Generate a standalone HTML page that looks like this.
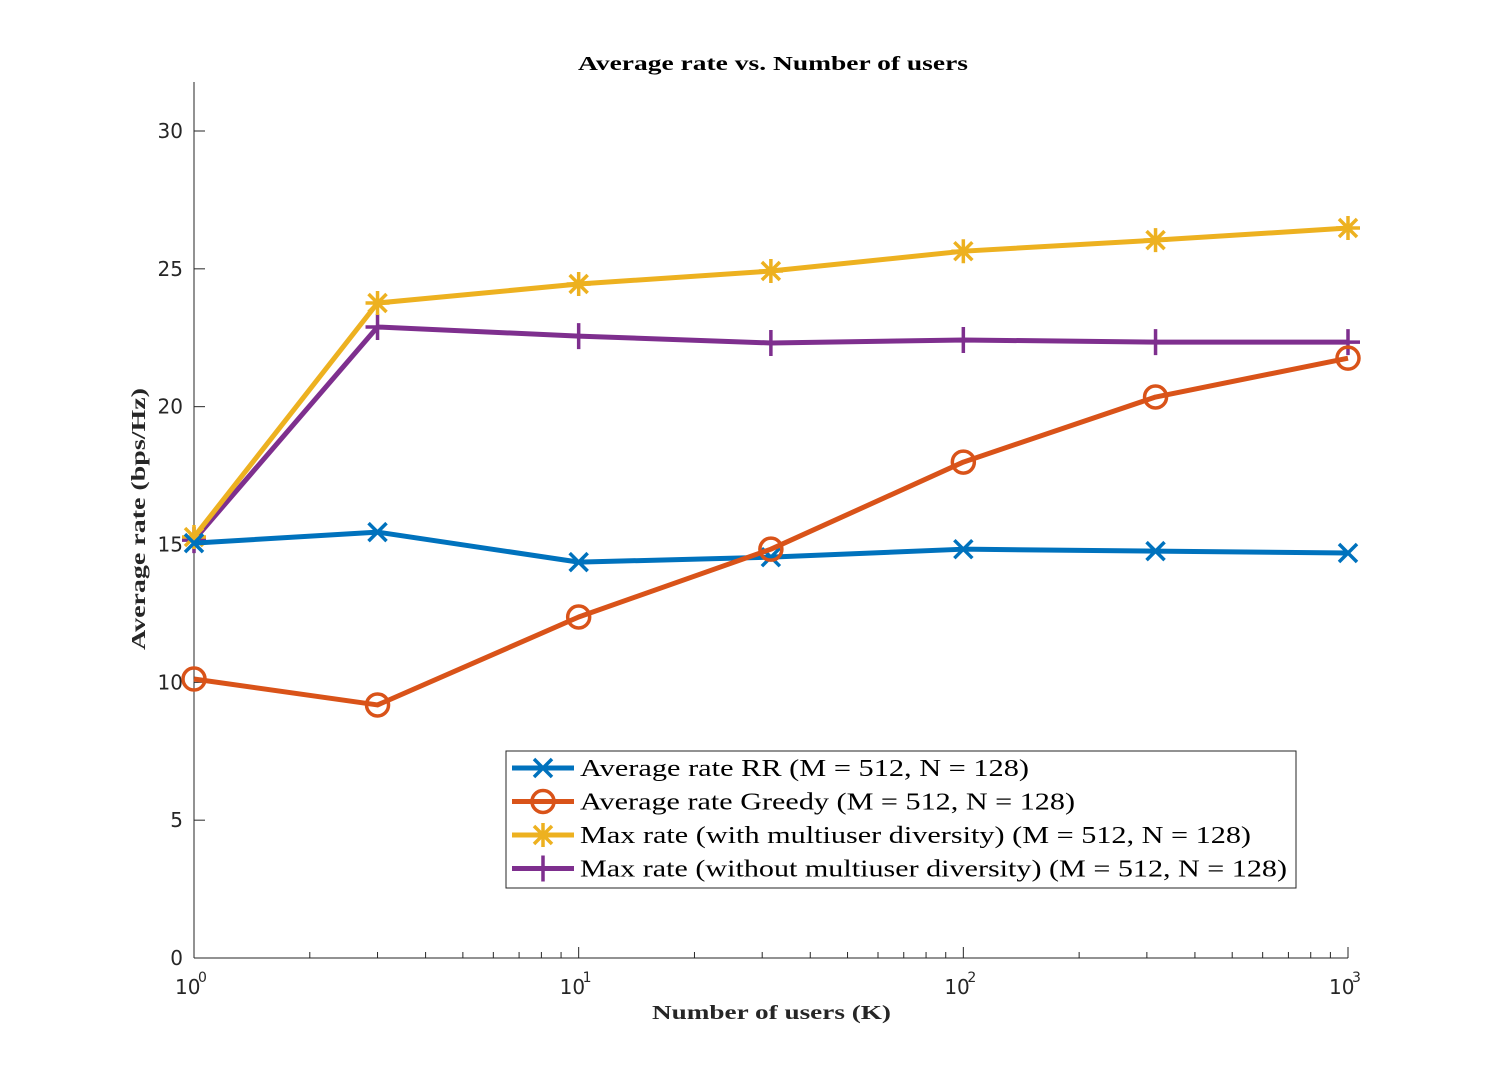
<!DOCTYPE html>
<html><head><meta charset="utf-8"><style>
body{margin:0;background:#fff;}
svg{display:block;}
.tk{font-family:"DejaVu Sans","Liberation Sans",sans-serif;font-size:20px;fill:#262626;}
.sr{font-family:"Liberation Serif",serif;}
</style></head><body>
<svg id="chart" width="1491" height="1077" viewBox="0 0 1491 1077">
<g id="axes"></g><g id="series"></g><g id="legend"></g>
</svg>
<script>
const xValues=[1,3,10,31.6,100,316,1000];
const rrValues=[15.05,15.45,14.36,14.54,14.83,14.76,14.69];
const greedyValues=[10.12,9.18,12.37,14.83,17.99,20.35,21.76];
const maxWithValues=[15.27,23.76,24.45,24.92,25.64,26.04,26.48];
const maxWithoutValues=[15.16,22.89,22.56,22.31,22.42,22.34,22.34];
const yTicks=[0,5,10,15,20,25,30];
const xTickExps=[0,1,2,3];
const seriesNames=["Average rate RR (M = 512, N = 128)","Average rate Greedy (M = 512, N = 128)","Max rate (with multiuser diversity) (M = 512, N = 128)","Max rate (without multiuser diversity) (M = 512, N = 128)"];
const legendWidths=[449,495,671,707];

const NS="http://www.w3.org/2000/svg";
const L=194,R=1348,B=958,T=82;
const xs=v=>L+(Math.log10(v)/3)*(R-L);
const ys=v=>B-v*(827/30);
function mk(tag,attrs,parent){const e=document.createElementNS(NS,tag);for(const k in attrs)e.setAttribute(k,attrs[k]);parent.appendChild(e);return e;}
const ax=document.getElementById('axes');
const ln1=mk('line',{x1:L,y1:T,x2:L,y2:B,stroke:'#262626','stroke-width':1},ax);


const ln2=mk('line',{x1:L,y1:B,x2:R,y2:B,stroke:'#262626','stroke-width':1},ax);


yTicks.forEach(v=>{
  const y=ys(v);
  mk('line',{x1:L,y1:y,x2:L+11,y2:y,stroke:'#262626'},ax);
  const t=mk('text',{x:L-11,y:y+7,'text-anchor':'end',class:'tk'},ax);t.textContent=v;
  
  
});
xTickExps.forEach(e=>{
  const x=xs(Math.pow(10,e));
  mk('line',{x1:x,y1:B,x2:x,y2:B-11,stroke:'#262626'},ax);
  const t=mk('text',{x:x-19,y:B+36,class:'tk'},ax);t.textContent='10';
  
  
  const s=mk('text',{x:x+4,y:B+24,class:'tk'},ax);s.textContent=e;
  s.style.fontSize='14px';
  if(e<3)for(let m=2;m<10;m++){const xm=xs(m*Math.pow(10,e));mk('line',{x1:xm,y1:B,x2:xm,y2:B-6,stroke:'#262626'},ax);}
});
const tt=mk('text',{x:578,y:70,class:'sr','font-weight':'bold','font-size':'20px',fill:'#000',textLength:390,lengthAdjust:'spacingAndGlyphs'},ax);tt.textContent='Average rate vs. Number of users';


const xt=mk('text',{x:652,y:1019,class:'sr','font-weight':'bold','font-size':'20px',fill:'#262626',textLength:239,lengthAdjust:'spacingAndGlyphs'},ax);xt.textContent='Number of users (K)';


const yt=mk('text',{x:0,y:0,class:'sr','font-weight':'bold','font-size':'20px',fill:'#262626',textLength:262,lengthAdjust:'spacingAndGlyphs',transform:'translate(145,650) rotate(-90)'},ax);yt.textContent='Average rate (bps/Hz)';



const colors=['#0072bd','#d95319','#edb120','#7e2f8e'];
const data=[rrValues,greedyValues,maxWithValues,maxWithoutValues];
function marker(kind,x,y,c,g){
  const s={stroke:c,'stroke-width':3.5,fill:'none'};
  if(kind===0){mk('path',Object.assign({d:`M${x-9},${y-9}L${x+9},${y+9}M${x-9},${y+9}L${x+9},${y-9}`},s),g);}
  else if(kind===1){mk('circle',Object.assign({cx:x,cy:y,r:11},s),g);}
  else if(kind===2){mk('path',Object.assign({d:`M${x-12},${y}L${x+12},${y}M${x},${y-12}L${x},${y+12}M${x-9},${y-9}L${x+9},${y+9}M${x-9},${y+9}L${x+9},${y-9}`},s),g);}
  else {mk('path',Object.assign({d:`M${x-12},${y}L${x+12},${y}M${x},${y-13}L${x},${y+13}`},s),g);}
}
const sg=document.getElementById('series');
[3,2,0,1].forEach(i=>{
  const g=mk('g',{},sg);
  
  
  const pts=data[i].map((v,j)=>xs(xValues[j])+','+ys(v)).join(' ');
  mk('polyline',{points:pts,fill:'none',stroke:colors[i],'stroke-width':5,'stroke-linejoin':'round'},g);
  data[i].forEach((v,j)=>marker(i,xs(xValues[j]),ys(v),colors[i],g));
});
const lg=document.getElementById('legend');
const box=mk('rect',{x:506,y:751,width:790,height:137,fill:'#fff',stroke:'#262626','stroke-width':1},lg);


seriesNames.forEach((n,i)=>{
  const y=768+i*33.5;
  const g=mk('g',{},lg);
  
  
  mk('line',{x1:512,y1:y,x2:574,y2:y,stroke:colors[i],'stroke-width':5},g);
  marker(i,543,y,colors[i],g);
  const t=mk('text',{x:580,y:y+8,class:'sr','font-size':'24px',fill:'#000',textLength:legendWidths[i],lengthAdjust:'spacingAndGlyphs'},g);t.textContent=n;
});
</script>
</body></html>
